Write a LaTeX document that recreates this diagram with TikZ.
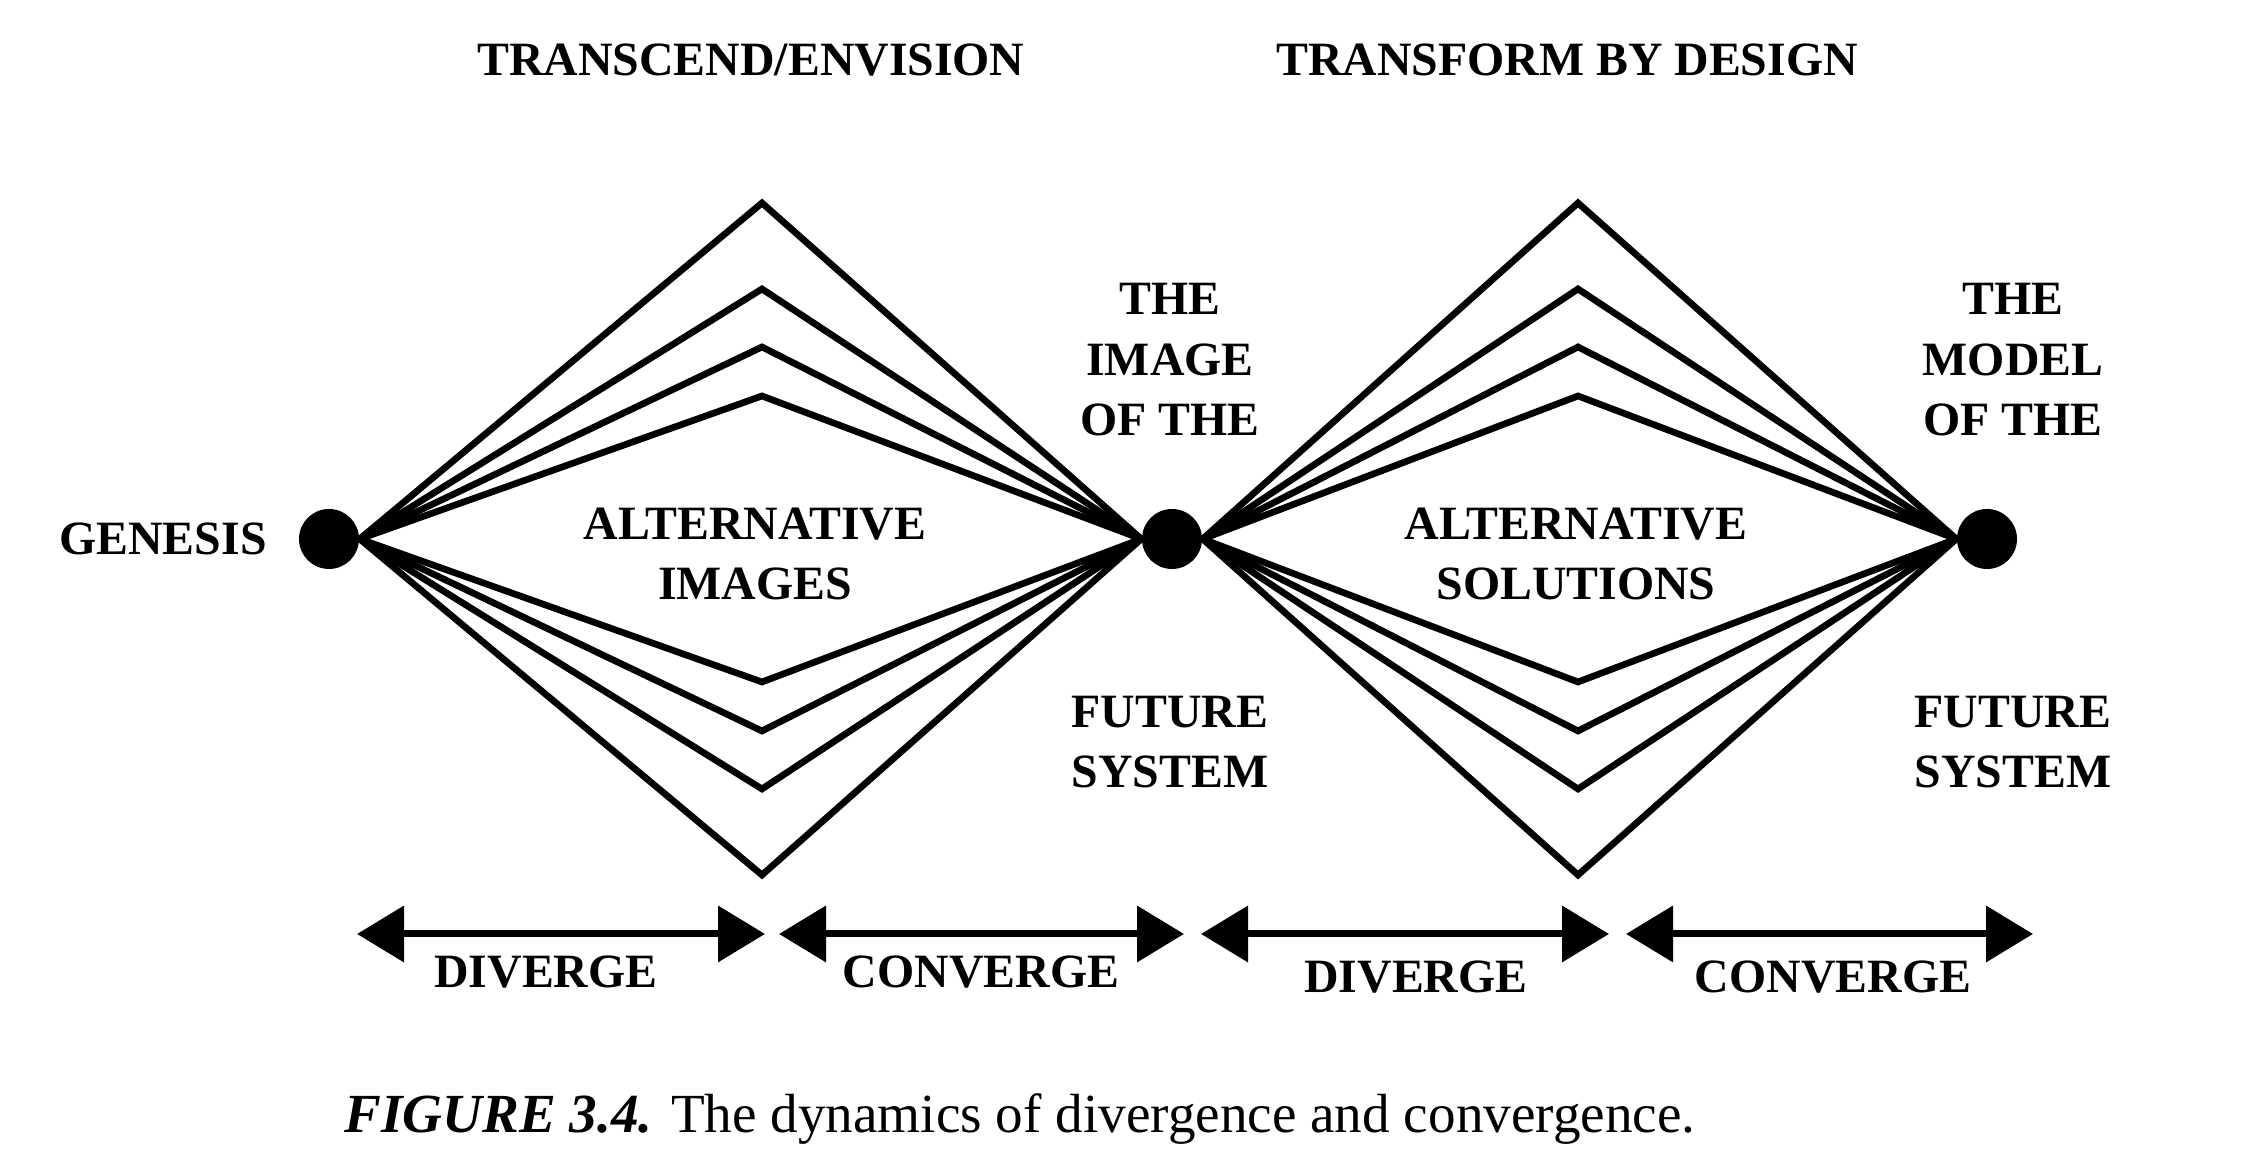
\documentclass[tikz,border=0pt]{standalone}
\usepackage{fontspec}
\setmainfont{Liberation Serif}
\usetikzlibrary{arrows.meta}

\begin{document}
\begin{tikzpicture}[x=1cm,y=1cm,
  lbl/.style={font=\bfseries\fontsize{13.6}{17.2}\selectfont,align=center,inner sep=0pt},
  dot/.style={circle,fill=black,minimum size=0.6cm,inner sep=0pt},
  ray/.style={line width=1.9pt,line join=miter},
  span/.style={line width=2pt,{Triangle[length=0.47cm,width=0.55cm]}-{Triangle[length=0.47cm,width=0.55cm]}}]
\useasboundingbox (0,0) rectangle (22.42,11.76);
% the three points
\node[dot] (gen) at (3.29,6.37) {};
\node[dot] (img) at (11.72,6.37) {};
\node[dot] (mdl) at (19.87,6.37) {};
\coordinate (a1) at (7.62,6.37);
\coordinate (a2) at (15.78,6.37);
% fans
\foreach \o in {1.43,1.92,2.50,3.36} {
  \draw[ray] (gen.east) -- ([yshift=\o cm]a1) -- (img.west);
  \draw[ray] (gen.east) -- ([yshift=-\o cm]a1) -- (img.west);
  \draw[ray] (img.east) -- ([yshift=\o cm]a2) -- (mdl.west);
  \draw[ray] (img.east) -- ([yshift=-\o cm]a2) -- (mdl.west);
}
% labels
\node[lbl] (genlbl) at (1.63,6.37) {GENESIS};
\node[lbl] (head1) at (7.51,11.16) {TRANSCEND/ENVISION};
\node[lbl] (head2) at (15.67,11.16) {TRANSFORM BY DESIGN};
\node[lbl] (imgtop) at (11.70,8.16) {THE\\IMAGE\\OF THE};
\node[lbl] (imgbot) at (11.70,4.34) {FUTURE\\SYSTEM};
\node[lbl] (mdltop) at (20.13,8.16) {THE\\MODEL\\OF THE};
\node[lbl] (mdlbot) at (20.13,4.34) {FUTURE\\SYSTEM};
\node[lbl] (alt1) at (7.55,6.22) {ALTERNATIVE\\IMAGES};
\node[lbl] (alt2) at (15.76,6.22) {ALTERNATIVE\\SOLUTIONS};
% arrows
\coordinate (p1) at (3.57,2.42);
\coordinate (p2) at (7.65,2.42);
\coordinate (p3) at (7.79,2.42);
\coordinate (p4) at (11.84,2.42);
\coordinate (p5) at (12.01,2.42);
\coordinate (p6) at (16.09,2.42);
\coordinate (p7) at (16.26,2.42);
\coordinate (p8) at (20.33,2.42);
\draw[span] (p1) -- (p2);
\draw[span] (p3) -- (p4);
\draw[span] (p5) -- (p6);
\draw[span] (p7) -- (p8);
\node[lbl] (div1) at (5.46,2.04) {DIVERGE};
\node[lbl] (con1) at (9.81,2.04) {CONVERGE};
\node[lbl] (div2) at (14.16,1.99) {DIVERGE};
\node[lbl] (con2) at (18.33,1.99) {CONVERGE};
% caption
\node[font=\fontsize{15.7}{19}\selectfont,inner sep=0pt] (cap) at (10.20,0.57)
  {\textbf{\textit{FIGURE 3.4.}} The dynamics of divergence and convergence.};
\end{tikzpicture}
\end{document}
